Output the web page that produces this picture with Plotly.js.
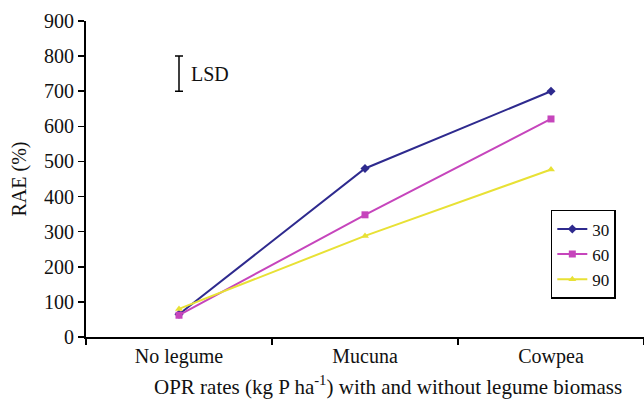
<!DOCTYPE html>
<html>
<head>
<meta charset="utf-8">
<script src="https://cdn.plot.ly/plotly-3.0.1.min.js"></script>
<style>html,body{margin:0;padding:0;background:#fff;}#chart{width:644px;height:399px;}</style>
</head>
<body>
<div id="chart"></div>
<script>
const categories = ["No legume", "Mucuna", "Cowpea"];
const seriesNames = ["30", "60", "90"];
const rae30 = [65, 480, 700];
const rae60 = [62, 348, 621];
const rae90 = [80, 288, 477];
const lsdCenter = [750];
const lsdHalf = [50];
const lsdCategory = ["No legume"];
const xTitle = "OPR rates (kg P ha<sup>-1</sup>) with and without legume biomass";

const colors = ["#2E2A8E", "#C645BC", "#E8E135"];
const symbols = ["diamond", "square", "triangle-up"];
const values = [rae30, rae60, rae90];

const traces = values.map((v, i) => ({
  type: "scatter", mode: "lines+markers", x: categories, y: v, name: seriesNames[i],
  line: {color: colors[i], width: 2},
  marker: {color: colors[i], symbol: symbols[i], size: 7}
}));
traces.push({
  type: "scatter", mode: "markers", x: lsdCategory, y: lsdCenter, showlegend: false,
  marker: {size: 1, color: "rgba(0,0,0,0)"},
  error_y: {type: "data", array: lsdHalf, visible: true, color: "#000", thickness: 1.5, width: 4}
});

const fam = "'Liberation Serif', 'Times New Roman', serif";
const f = {family: fam, size: 20, color: "#111"};
const layout = {
  width: 644, height: 399,
  margin: {l: 86, r: 0, t: 21, b: 62},
  paper_bgcolor: "#fff", plot_bgcolor: "#fff",
  font: f,
  showlegend: true,
  legend: {x: 0.833, y: 0.402, xanchor: "left", yanchor: "top", bordercolor: "#000", borderwidth: 1.5,
           font: {family: fam, size: 17, color: "#111"}, tracegroupgap: 0, itemwidth: 30},
  xaxis: {
    type: "category", range: [-0.5, 2.5], showgrid: false, zeroline: false,
    showline: true, linecolor: "#000", linewidth: 2,
    ticks: "outside", tickson: "boundaries", ticklen: 6, tickcolor: "#000", tickwidth: 1.5,
    tickfont: f
  },
  yaxis: {
    range: [0, 900], dtick: 100, showgrid: false, zeroline: false,
    showline: true, linecolor: "#000", linewidth: 2,
    ticks: "outside", ticklen: 6, tickcolor: "#000", tickwidth: 1.5,
    tickfont: f,
    title: {text: "RAE (%)", standoff: 12, font: f}
  },
  annotations: [{
    x: lsdCategory[0], y: lsdCenter[0], xref: "x", yref: "y", text: "LSD", showarrow: false,
    xanchor: "left", xshift: 10, font: f
  }, {
    x: 0.541, y: -0.152, xref: "paper", yref: "paper", text: xTitle, showarrow: false,
    xanchor: "center", yanchor: "middle", font: {family: fam, size: 21, color: "#111"}
  }]
};
Plotly.newPlot("chart", traces, layout, {displayModeBar: false, staticPlot: true});
</script>
</body>
</html>
